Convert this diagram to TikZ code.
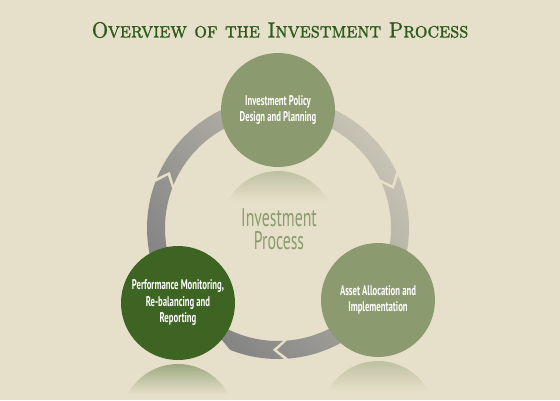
\documentclass[tikz,border=0pt]{standalone}
\usepackage{fontspec}
\newfontfamily\condfont[FakeStretch=0.62]{PT Sans}
\newfontfamily\titlefont[FakeStretch=0.9,FakeBold=1.2]{lmromancaps10-regular.otf}
\definecolor{bgc}{HTML}{E6DFC9}
\definecolor{titlec}{HTML}{2D5A1B}
\definecolor{sage}{HTML}{8B9B6F}
\definecolor{darkg}{HTML}{3E6423}
\definecolor{grayd}{HTML}{848484}
\definecolor{grayl}{HTML}{D6D1BF}
\tikzset{
  stage/.style={circle, minimum size=114pt, inner sep=0pt, text=white, align=center,
    font=\condfont\bfseries\fontsize{14}{16.5}\selectfont},
  centertext/.style={text=sage, inner sep=0pt, anchor=base, font=\condfont\fontsize{25.5}{26}\selectfont},
}
\newcommand{\ringseg}[2]{% tail gap #1, tip gap #2 (angles, #1 > #2)
  (#1+2.5-2:131) arc[start angle=#1+2.5-2, end angle=#2+2.5, radius=131]
  -- (#2-2.5:122) -- (#2+2.5:113)
  arc[start angle=#2+2.5, end angle=#1+2.5-2, radius=113]
  -- (#1-2.5-2:122) -- cycle}
\newcommand{\reflect}[3]{% center x, center y of circle, color
  \shade[top color=#3!55!bgc, bottom color=bgc]
    ($(#1,#2-118)+(152:57)$) arc[start angle=152, end angle=28, radius=57] -- cycle;}
\usetikzlibrary{calc}
\begin{document}
\begin{tikzpicture}[x=1pt,y=1pt]
\fill[bgc] (0,0) rectangle (560,400);
\useasboundingbox (0,0) rectangle (560,400);
\node[text=titlec, inner sep=0pt, anchor=base, font=\titlefont\fontsize{22}{24}\selectfont] (title) at (280,362.5) {Overview of the Investment Process};
% reflections
\reflect{278}{290}{sage}
\reflect{178}{97}{darkg}
\reflect{378}{100}{sage}
% ring
\begin{scope}
  \clip[shift={(278,172)}] \ringseg{157}{23} \ringseg{23}{-88} \ringseg{-88}{-203};
  \shade[transform canvas={shift={(278,172)}, rotate=-50}, top color=grayl, bottom color=grayd]
    (-200,-115) rectangle (200,185);
\end{scope}
% circles
\node[stage, fill=sage] (top) at (278,290) {Investment Policy\\Design and Planning};
\node[stage, fill=sage] (br) at (378,100) {Asset Allocation and\\Implementation};
\node[stage, fill=darkg] (bl) at (178,97) {Performance Monitoring,\\Re-balancing and\\Reporting};
\node[centertext] (centerA) at (279,174) {Investment};
\node[centertext] (centerB) at (279,151) {Process};
\end{tikzpicture}
\end{document}
